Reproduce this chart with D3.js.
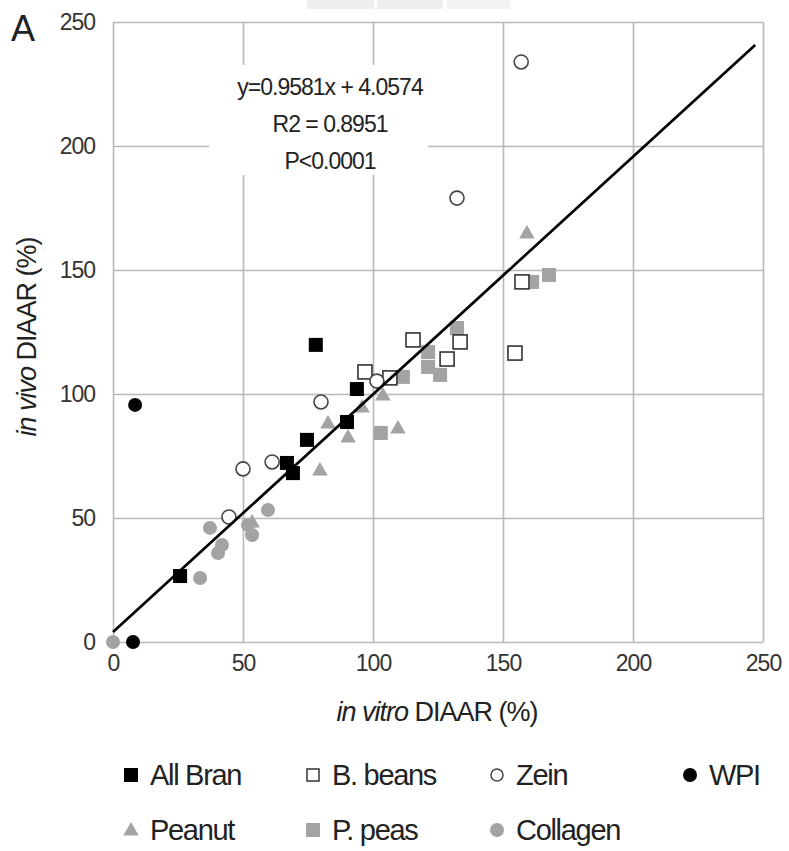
<!DOCTYPE html>
<html><head><meta charset="utf-8">
<script src="https://cdn.jsdelivr.net/npm/d3@7"></script>
<style>body{margin:0;background:#fff}svg{display:block}text{font-family:"Liberation Sans",Arial,sans-serif}</style>
</head><body><svg id="c" width="789" height="851"></svg>
<script>
const xTicks = [0, 50, 100, 150, 200, 250];
const yTicks = [0, 50, 100, 150, 200, 250];
const allBran = [[25.8,26.6],[78,119.8],[93.8,102],[90,88.7],[74.6,81.5],[66.9,72.2],[69.2,68.1]];
const bBeans = [[115.4,121.8],[133.5,121],[128.5,114.1],[96.9,108.9],[106.5,106.5],[154.6,116.5],[157.3,145.2]];
const zein = [[157,233.9],[132.3,179],[80,96.8],[50,69.8],[61.2,72.6],[44.6,50.4],[101.5,105.2]];
const wpi = [[8.5,95.6],[7.7,0]];
const peanut = [[159.2,164.9],[103.8,99.6],[82.7,88.3],[90.4,82.7],[109.6,86.3],[79.6,69.4],[95.8,94.8],[53.5,48.4]];
const pPeas = [[132.3,126.6],[121.2,116.9],[121.2,110.9],[125.8,107.7],[111.5,106.9],[103,84.3],[161.2,145.2],[167.7,148]];
const collagen = [[0,0],[33.5,25.8],[37.3,46],[41.9,39.1],[40.4,35.9],[59.6,53.2],[51.9,47.2],[53.5,43.1]];
const slope = 0.9581, intercept = 4.0574, fitRange = [0, 247];
const annot = ["y=0.9581x + 4.0574", "R2 = 0.8951", "P<0.0001"];
const seriesNames = ["All Bran","B. beans","Zein","WPI","Peanut","P. peas","Collagen"];

const svg = d3.select("#c");
const x = d3.scaleLinear().domain([0,250]).range([113,763]);
const y = d3.scaleLinear().domain([0,250]).range([642,22]);
const grey = "#a3a3a3", grid = "#b8b8b8";

// faint header fragments
svg.append("rect").attr("x",307).attr("y",0).attr("width",67).attr("height",9).attr("fill","#eeeeee");
svg.append("rect").attr("x",377).attr("y",0).attr("width",66).attr("height",9).attr("fill","#eeeeee");
svg.append("rect").attr("x",447).attr("y",0).attr("width",63).attr("height",9).attr("fill","#f3f3f3");

// grid via axes
const gx = svg.append("g").attr("transform",`translate(0,${y(0)})`)
  .call(d3.axisBottom(x).tickValues(xTicks).tickSize(-(y(0)-y(250))).tickFormat(d3.format("d")));
const gy = svg.append("g").attr("transform",`translate(${x(0)},0)`)
  .call(d3.axisLeft(y).tickValues(yTicks).tickSize(-(x(250)-x(0))).tickPadding(18).tickFormat(d3.format("d")));
[gx,gy].forEach(g=>{
  g.select(".domain").remove();
  g.selectAll(".tick line").attr("stroke",grid).attr("stroke-width",1.6);
  g.selectAll(".tick text").attr("fill","#333").attr("font-size",23).attr("font-family","Liberation Sans, Arial, sans-serif").attr("letter-spacing",-1);
});
gx.selectAll(".tick text").attr("y",29).attr("dy",null);

// annotation box
svg.append("rect").attr("x",209).attr("y",65).attr("width",219).attr("height",110).attr("fill","#fff");
annot.forEach((t,i)=>{
  svg.append("text").attr("x",330).attr("y",[95,132,169][i]).attr("text-anchor","middle")
    .attr("font-size",23).attr("letter-spacing",-1).attr("fill","#222").text(t);
});

// markers
const S = 14;
function sq(g, data, fill, stroke){
  g.selectAll(null).data(data).enter().append("rect")
    .attr("x",d=>x(d[0])-S/2).attr("y",d=>y(d[1])-S/2).attr("width",S).attr("height",S)
    .attr("fill",fill).attr("stroke",stroke||"none").attr("stroke-width",1.6);
}
function circ(g, data, fill, stroke){
  g.selectAll(null).data(data).enter().append("circle")
    .attr("cx",d=>x(d[0])).attr("cy",d=>y(d[1])).attr("r",7)
    .attr("fill",fill).attr("stroke",stroke||"none").attr("stroke-width",1.6);
}
function tri(g, data, fill){
  const sym = d3.symbol().type(d3.symbolTriangle).size(105);
  g.selectAll(null).data(data).enter().append("path")
    .attr("d",sym).attr("transform",d=>`translate(${x(d[0])},${y(d[1])+1})`).attr("fill",fill);
}
const m = svg.append("g");
circ(m, collagen, grey);
sq(m, pPeas, grey);
tri(m, peanut, grey);
sq(m, bBeans, "#fff", "#333");
circ(m, zein, "#fff", "#444");
sq(m, allBran, "#000");
circ(m, wpi, "#000");

// regression line
svg.append("line").attr("x1",x(fitRange[0])).attr("y1",y(slope*fitRange[0]+intercept))
  .attr("x2",x(fitRange[1])).attr("y2",y(slope*fitRange[1]+intercept))
  .attr("stroke","#000").attr("stroke-width",2.7);

// labels
svg.append("text").attr("x",11).attr("y",41).attr("font-size",36).attr("fill","#222").text("A");
const xt = svg.append("text").attr("x",437).attr("y",721).attr("text-anchor","middle").attr("font-size",27).attr("fill","#222").attr("letter-spacing",-1);
xt.append("tspan").attr("font-style","italic").text("in vitro");
xt.append("tspan").text(" DIAAR (%)");
const yt = svg.append("text").attr("transform","translate(36,337) rotate(-90)").attr("text-anchor","middle").attr("font-size",27).attr("fill","#222").attr("letter-spacing",-1);
yt.append("tspan").attr("font-style","italic").text("in vivo");
yt.append("tspan").text(" DIAAR (%)");

// legend
const lg = svg.append("g");
const legendPos = [[131,775],[313,775],[497,775],[690,775],[131,830],[313,830],[497,830]];
const legendMark = [
  g=>g.append("rect").attr("x",-7).attr("y",-7).attr("width",14).attr("height",14).attr("fill","#000"),
  g=>g.append("rect").attr("x",-6).attr("y",-6).attr("width",12).attr("height",12).attr("fill","#fff").attr("stroke","#333").attr("stroke-width",1.5),
  g=>g.append("circle").attr("r",6).attr("fill","#fff").attr("stroke","#444").attr("stroke-width",1.5),
  g=>g.append("circle").attr("r",7).attr("fill","#000"),
  g=>g.append("path").attr("d",d3.symbol().type(d3.symbolTriangle).size(105)).attr("transform","translate(0,1)").attr("fill",grey),
  g=>g.append("rect").attr("x",-7).attr("y",-7).attr("width",14).attr("height",14).attr("fill",grey),
  g=>g.append("circle").attr("r",7).attr("fill",grey)
];
seriesNames.forEach((n,i)=>{
  const g = lg.append("g").attr("transform",`translate(${legendPos[i][0]},${legendPos[i][1]})`);
  legendMark[i](g);
  g.append("text").attr("x",19).attr("y",10).attr("font-size",29).attr("letter-spacing",-1.3).attr("fill","#222").text(n);
});
</script></body></html>
